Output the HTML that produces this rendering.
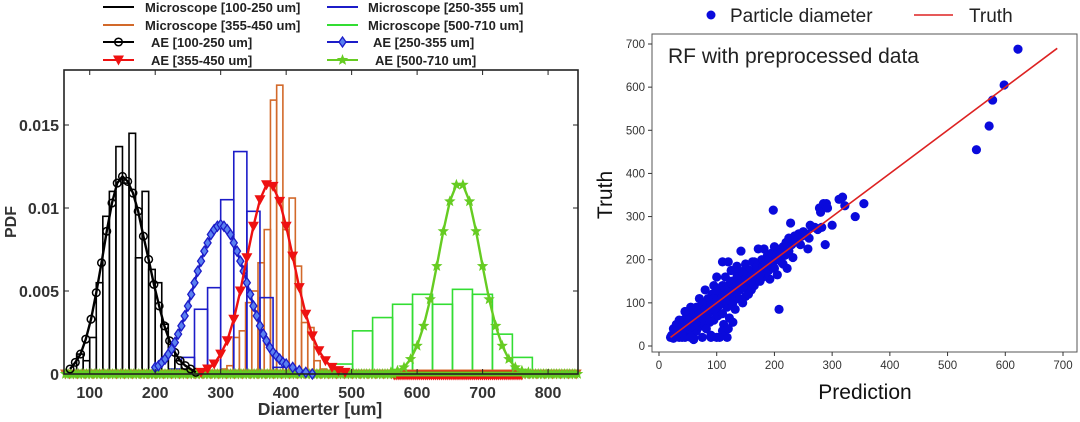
<!DOCTYPE html>
<html><head><meta charset="utf-8"><style>
body{margin:0;background:#fff;width:1080px;height:422px;overflow:hidden}
svg{display:block;font-family:"Liberation Sans",Arial,sans-serif}
</style></head><body>
<svg id="fig" width="1080" height="422" viewBox="0 0 1080 422" xmlns="http://www.w3.org/2000/svg">
<g id="left"></g>
<g id="right"></g>
</svg>
<script>
// ---------- LEFT CHART DATA ----------
const xTicksL = [100,200,300,400,500,600,700,800];
const yTicksL = [0,0.005,0.01,0.015];
const yTickLabelsL = ["0","0.005","0.01","0.015"];
const blackBinStart = 70, blackBinW = 10;
const blackHist = [0.0002,0.0012,0.0008,0.0022,0.0055,0.0095,0.011,0.0137,0.0115,0.0145,0.007,0.011,0.0063,0.0055,0.003,0.0015,0.0008,0.0003];
const blueBinStart = 220, blueBinW = 20;
const blueHist = [0.0003,0.001,0.0039,0.0052,0.0105,0.0134,0.0098,0.0046,0.0004];
const orangeBinStart = 300, orangeBinW = 9.5;
const orangeHist = [0.0003,0.0005,0.0022,0.0026,0.0043,0.005,0.0067,0.0087,0.0165,0.0174,0.0087,0.0106,0.0065,0.0031,0.0028,0.0008,0.0003];
const greenBinStart = 471, greenBinW = 30.5;
const greenHist = [0.0006,0.0026,0.0034,0.0042,0.0048,0.0042,0.0051,0.0048,0.0024,0.001];
const aeBlackX = [70,78,86,94,102,110,118,126,134,142,150,158,166,174,182,190,198,206,214,222,230,238,246,254,262];
const aeBlackY = [0.0003,0.0007,0.0012,0.0021,0.0033,0.0049,0.0067,0.0086,0.0103,0.0115,0.0119,0.0116,0.0109,0.0098,0.0083,0.0069,0.0054,0.0041,0.0029,0.002,0.0013,0.0008,0.0005,0.0003,0.0001];
const aeBlueX = [200,205,210,215,220,225,230,235,240,245,250,255,260,265,270,275,280,285,290,295,300,305,310,315,320,325,330,335,340,345,350,355,360,365,370,375,380,385,390,395,400,410,420,430,440];
const aeBlueY = [0.0004,0.0005,0.0007,0.0009,0.0012,0.0015,0.0019,0.0024,0.0029,0.0035,0.0041,0.0048,0.0055,0.0062,0.0068,0.0074,0.0079,0.0084,0.0087,0.0089,0.009,0.0089,0.0087,0.0084,0.0079,0.0074,0.0068,0.0062,0.0055,0.0048,0.0041,0.0035,0.0029,0.0024,0.002,0.0016,0.0013,0.0011,0.0009,0.0007,0.0006,0.0004,0.0002,0.0001,0];
const aeRedX = [270,280,290,300,310,320,330,340,350,360,370,380,390,400,410,420,430,440,450,460,470,480,490];
const aeRedY = [0.0001,0.0003,0.0006,0.0012,0.002,0.0033,0.005,0.007,0.0089,0.0105,0.0114,0.0113,0.0104,0.0089,0.0071,0.0052,0.0036,0.0023,0.0014,0.0008,0.0004,0.0002,0.0001];
const aeGreenX = [560,570,580,590,600,610,620,630,640,650,660,670,680,690,700,710,720,730,740,750,760,770];
const aeGreenY = [0.0001,0.0002,0.0004,0.0009,0.0017,0.0029,0.0045,0.0065,0.0086,0.0104,0.0114,0.0114,0.0104,0.0086,0.0065,0.0045,0.0029,0.0017,0.0009,0.0004,0.0002,0.0001];

// ---------- RIGHT CHART DATA ----------
const xTicksR = [0,100,200,300,400,500,600,700];
const yTicksR = [0,100,200,300,400,500,600,700];
const predVals = [20,22,25,28,30,32,35,38,40,40,42,45,45,48,50,50,52,55,55,58,60,60,62,65,65,68,70,70,72,75,75,78,80,80,82,85,85,88,90,90,92,95,95,98,100,100,100,102,105,105,108,110,110,112,115,115,118,118,120,120,122,125,125,128,130,130,132,135,135,138,140,140,142,145,145,148,150,150,152,155,158,160,160,162,165,165,168,170,172,175,175,178,180,180,182,185,188,190,190,192,195,198,200,200,202,205,205,208,210,212,215,218,220,222,225,225,228,230,232,235,240,242,245,248,250,255,258,260,262,265,270,275,278,280,282,285,288,290,292,300,312,318,322,340,355,198,550,572,578,598,622,90,110,120,128,105,60,35,45,55,70,80,95,110,120,132,25,30,35,45,50,55,65,75,85,95,100,110,115,125,135,145,150,155,165,170,185,195,205,215,30,40,50,60,70,80,90,100,110,120,130,140,150,160,170,180,190,200,210,40,55,65,75,85,95,105,115,125,135,145,160,175];
const truthVals = [20,25,18,30,22,40,28,45,20,35,60,30,50,70,40,25,55,35,65,45,80,20,50,70,35,55,85,45,60,20,75,50,90,65,40,110,75,55,95,20,120,80,60,105,85,160,20,70,115,95,135,100,75,50,120,160,90,20,140,110,65,125,175,100,150,120,85,185,140,110,160,130,220,150,100,175,135,190,160,145,175,155,130,195,170,140,185,160,225,175,150,200,185,160,225,195,210,175,200,155,215,195,230,180,205,165,215,85,225,195,230,210,240,180,220,250,285,235,205,255,245,260,235,255,265,260,225,250,280,275,275,270,320,310,275,330,235,330,320,280,340,345,325,300,330,315,455,510,570,605,688,25,35,40,55,20,15,60,80,90,110,130,140,195,195,175,40,50,20,20,60,20,90,100,60,110,130,140,130,150,160,170,115,120,195,185,170,185,200,190,35,45,55,65,75,85,95,105,115,125,135,145,155,165,175,185,195,205,215,30,45,55,65,75,85,95,105,115,125,135,150,165];

const NS="http://www.w3.org/2000/svg";
function mk(parent,tag,attrs,txt){const e=document.createElementNS(NS,tag);for(const k in attrs)e.setAttribute(k,attrs[k]);if(txt!==undefined)e.textContent=txt;parent.appendChild(e);return e;}

// ---------- LEFT ----------
const L=document.getElementById('left');
const lx0=64,lx1=578,ly0=70,ly1=374;
const xL=v=>lx0+1.5+(v-63)*(lx1-lx0)/(848-63);
const yL=v=>ly1-v*16600;
function hist(start,w,vals,color,name){
  const g=mk(L,'g',{});
  
  
  vals.forEach((v,i)=>{
    const a=xL(start+i*w),b=xL(start+(i+1)*w);
    const r=mk(g,'rect',{x:a,y:yL(v),width:b-a,height:ly1-yL(v),fill:'none',stroke:color,'stroke-width':1.6});
    
    
  });
}
hist(orangeBinStart,orangeBinW,orangeHist,'#d2692a','hist-355-450');
hist(blueBinStart,blueBinW,blueHist,'#1c1cc8','hist-250-355');
hist(blackBinStart,blackBinW,blackHist,'#000','hist-100-250');
hist(greenBinStart,greenBinW,greenHist,'#33dd33','hist-500-710');

function marker(g,type,cx,cy,color){
  let e;
  if(type==='circle') e=mk(g,'circle',{cx,cy,r:3.8,fill:'none',stroke:color,'stroke-width':1.5});
  else if(type==='diamond') e=mk(g,'polygon',{points:`${cx},${cy-5} ${cx+3.5},${cy} ${cx},${cy+5} ${cx-3.5},${cy}`,fill:'#5a80f0',stroke:color,'stroke-width':1.3});
  else if(type==='tri') e=mk(g,'polygon',{points:`${cx-5.5},${cy-4.5} ${cx+5.5},${cy-4.5} ${cx},${cy+5.5}`,fill:color});
  else { let p=[];for(let k=0;k<10;k++){const r=k%2?2.6:6,a=-Math.PI/2+k*Math.PI/5;p.push((cx+r*Math.cos(a)).toFixed(1)+','+(cy+r*Math.sin(a)).toFixed(1));} e=mk(g,'polygon',{points:p.join(' '),fill:color}); }
  
  
}
function ae(xs,ys,color,type,name,mcolor){
  const g=mk(L,'g',{});
  
  
  mk(g,'polyline',{points:xs.map((x,i)=>xL(x)+','+yL(ys[i])).join(' '),fill:'none',stroke:color,'stroke-width':2.4});
  xs.forEach((x,i)=>marker(g,type,xL(x),yL(ys[i]),mcolor||color));
}
const base=mk(L,'g',{});


mk(base,'line',{x1:lx0,x2:lx1,y1:ly1-1,y2:ly1-1,stroke:'#e02020','stroke-width':3});
for(let v=63;v<=848;v+=6){marker(base,'tri',xL(v),ly1,'#d2692a');}
for(let v=565;v<=760;v+=3){marker(base,'tri',xL(v),ly1+1,'#ee1111');}
mk(base,'line',{x1:lx0,x2:lx1,y1:ly1,y2:ly1,stroke:'#66cc22','stroke-width':5});
for(let v=63;v<=565;v+=4){marker(base,'star',xL(v),ly1,'#66cc22');}
for(let v=765;v<=848;v+=4){marker(base,'star',xL(v),ly1,'#66cc22');}

ae(aeBlackX,aeBlackY,'#000','circle','ae-100-250');
ae(aeBlueX,aeBlueY,'#1c1cc8','diamond','ae-250-355');
ae(aeRedX,aeRedY,'#ee1111','tri','ae-355-450');
ae(aeGreenX,aeGreenY,'#66cc22','star','ae-500-710');

const box=mk(L,'rect',{x:lx0,y:ly0,width:lx1-lx0,height:ly1-ly0,fill:'none',stroke:'#222','stroke-width':1.6});


xTicksL.forEach(t=>{
  mk(L,'line',{x1:xL(t),x2:xL(t),y1:ly1,y2:ly1-5,stroke:'#222'});
  mk(L,'line',{x1:xL(t),x2:xL(t),y1:ly0,y2:ly0+5,stroke:'#222'});
  const tx=mk(L,'text',{x:xL(t),y:398,'text-anchor':'middle','font-size':16,'font-weight':'bold',fill:'#333'},t);
  
  
});
yTicksL.forEach((t,i)=>{
  mk(L,'line',{x1:lx0,x2:lx0+5,y1:yL(t),y2:yL(t),stroke:'#222'});
  mk(L,'line',{x1:lx1,x2:lx1-5,y1:yL(t),y2:yL(t),stroke:'#222'});
  const tx=mk(L,'text',{x:lx0-5,y:yL(t)+6,'text-anchor':'end','font-size':16,'font-weight':'bold',fill:'#333'},yTickLabelsL[i]);
  
  
});
const xt=mk(L,'text',{x:320,y:415,'text-anchor':'middle','font-size':17.5,'font-weight':'bold',fill:'#333'},'Diamerter [um]');


const yt=mk(L,'text',{x:0,y:0,transform:'translate(16,222) rotate(-90)','text-anchor':'middle','font-size':16,'font-weight':'bold',fill:'#333'},'PDF');



const legend=[
 [103,7,'#000',null,'Microscope [100-250 um]',145],[327,7,'#1c1cc8',null,'Microscope [250-355 um]',368],
 [103,25,'#d2692a',null,'Microscope [355-450 um]',145],[327,25,'#33dd33',null,'Microscope [500-710 um]',368],
 [103,42,'#000','circle','AE [100-250 um]',151],[327,42,'#1c1cc8','diamond','AE [250-355 um]',373],
 [103,60,'#ee1111','tri','AE [355-450 um]',151],[327,60,'#66cc22','star','AE [500-710 um]',375]];
legend.forEach(e=>{
  const g=mk(L,'g',{});
  
  
  mk(g,'line',{x1:e[0],x2:e[0]+31,y1:e[1],y2:e[1],stroke:e[2],'stroke-width':2});
  if(e[3]) marker(g,e[3],e[0]+15.5,e[1],e[2]);
  mk(g,'text',{x:e[5],y:e[1]+5,'font-size':13,'font-weight':'bold',fill:'#222'},e[4]);
});

// ---------- RIGHT ----------
const R=document.getElementById('right');
const rx0=652,rx1=1077,ry0=34,ry1=352;
const xR=v=>659+v*(1063-659)/700;
const yR=v=>346-v*(346-44)/700;
const fr=mk(R,'rect',{x:rx0,y:ry0,width:rx1-rx0,height:ry1-ry0,fill:'none',stroke:'#555','stroke-width':1});


xTicksR.forEach(t=>{
  mk(R,'line',{x1:xR(t),x2:xR(t),y1:ry1,y2:ry1+4,stroke:'#333'});
  const tx=mk(R,'text',{x:xR(t),y:ry1+17,'text-anchor':'middle','font-size':11.5,fill:'#333'},t);
  
  
});
yTicksR.forEach(t=>{
  mk(R,'line',{x1:rx0,x2:rx0-4,y1:yR(t),y2:yR(t),stroke:'#333'});
  const tx=mk(R,'text',{x:rx0-7,y:yR(t)+4,'text-anchor':'end','font-size':11.5,fill:'#333'},t);
  
  
});
const pts=mk(R,'g',{});


predVals.forEach((p,i)=>{
  const c=mk(pts,'circle',{cx:xR(p),cy:yR(truthVals[i]),r:4.6,fill:'#0a0adc'});
  
  
});
const tl=mk(R,'line',{x1:xR(20),y1:yR(20),x2:xR(690),y2:yR(690),stroke:'#dd2222','stroke-width':1.6});


const ttl=mk(R,'text',{x:668,y:63,'font-size':21,fill:'#222'},'RF with preprocessed data');


const lg1=mk(R,'g',{});


mk(lg1,'circle',{cx:711,cy:15,r:4.5,fill:'#0a0adc'});
mk(lg1,'text',{x:730,y:22,'font-size':19,fill:'#222'},'Particle diameter');
const lg2=mk(R,'g',{});


mk(lg2,'line',{x1:914,x2:953,y1:15,y2:15,stroke:'#dd2222','stroke-width':1.6});
mk(lg2,'text',{x:969,y:22,'font-size':19,fill:'#222'},'Truth');
const rxt=mk(R,'text',{x:865,y:399,'text-anchor':'middle','font-size':21,fill:'#111'},'Prediction');


const ryt=mk(R,'text',{x:0,y:0,transform:'translate(612,195) rotate(-90)','text-anchor':'middle','font-size':21,fill:'#111'},'Truth');


</script>
</body></html>
